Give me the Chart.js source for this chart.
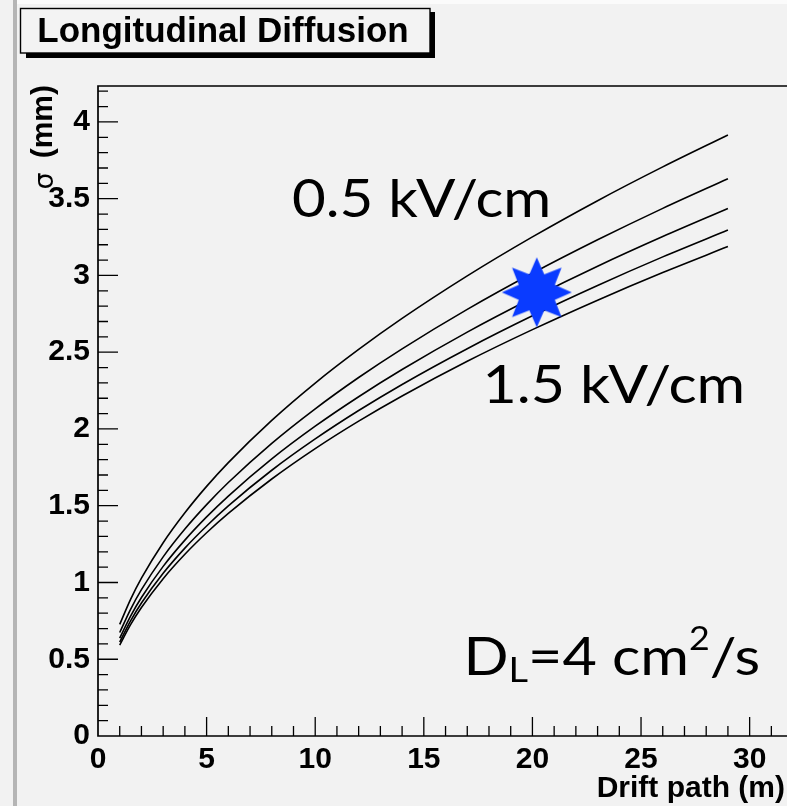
<!DOCTYPE html>
<html>
<head>
<meta charset="utf-8">
<script src="https://cdn.jsdelivr.net/npm/chart.js@4.4.1/dist/chart.umd.min.js"></script>
<style>
  html, body { margin: 0; padding: 0; background: #f2f2f2; overflow: hidden; }
  canvas { display: block; }
</style>
</head>
<body>
<canvas id="chart" width="787" height="806"></canvas>
<script>
// Drift path (m) sampled along each curve
const driftPath = [1, 1.5, 2, 3, 4, 5, 6, 8, 10, 12, 14, 17, 20, 23, 26, 29];

// Longitudinal spread sigma (mm), one curve per drift field
const sigmaField05  = [0.727, 0.890, 1.028, 1.259, 1.454, 1.626, 1.781, 2.056, 2.299, 2.518, 2.720, 2.997, 3.251, 3.487, 3.707, 3.915];
const sigmaField075 = [0.674, 0.825, 0.953, 1.167, 1.348, 1.507, 1.651, 1.906, 2.131, 2.335, 2.522, 2.779, 3.014, 3.232, 3.437, 3.630];
const sigmaField10  = [0.638, 0.781, 0.902, 1.105, 1.276, 1.427, 1.563, 1.805, 2.018, 2.210, 2.387, 2.631, 2.853, 3.060, 3.253, 3.436];
const sigmaField125 = [0.612, 0.750, 0.866, 1.060, 1.224, 1.368, 1.499, 1.731, 1.935, 2.120, 2.290, 2.523, 2.737, 2.935, 3.121, 3.296];
const sigmaField15  = [0.592, 0.725, 0.837, 1.025, 1.184, 1.324, 1.450, 1.674, 1.872, 2.051, 2.215, 2.441, 2.647, 2.839, 3.019, 3.188];

// Operating point marker (drift path m, sigma mm)
const operatingPoint = [20.2, 2.89];

// Axis tick labels
const xTickValues = [0, 5, 10, 15, 20, 25, 30];
const yTickValues = [0, 0.5, 1, 1.5, 2, 2.5, 3, 3.5, 4];

const curves = [sigmaField05, sigmaField075, sigmaField10, sigmaField125, sigmaField15];

const boldFont = '"Liberation Sans", Arial, Helvetica, sans-serif';
const textFont = 'Lato, "Open Sans", sans-serif';

// Filled eight-pointed star used as the marker image
function makeStar(outer, inner, color) {
  const size = Math.ceil(outer * 2 + 4);
  const c = document.createElement('canvas');
  c.width = size; c.height = size;
  const g = c.getContext('2d');
  const cx = size / 2, cy = size / 2;
  g.beginPath();
  for (let i = 0; i < 16; i++) {
    const r = i % 2 === 0 ? outer : inner;
    const a = -Math.PI / 2 + i * Math.PI / 8;
    const px = cx + r * Math.cos(a), py = cy + r * Math.sin(a);
    if (i === 0) g.moveTo(px, py); else g.lineTo(px, py);
  }
  g.closePath();
  g.fillStyle = color;
  g.fill();
  return c;
}
const starImage = makeStar(35, 19.5, '#0a3bff');

// Draws a run of text pieces [text, size, dy], stretched so its ink spans x0..x1
function drawRun(ctx, pieces, x0, x1, base) {
  let total = 0, inkLeft = 0, inkRight = 0;
  pieces.forEach((p, i) => {
    ctx.font = p[1] + 'px ' + textFont;
    const m = ctx.measureText(p[0]);
    if (i === 0) inkLeft = -m.actualBoundingBoxLeft;
    if (i === pieces.length - 1) inkRight = total + m.actualBoundingBoxRight;
    total += m.width;
  });
  const sx = (x1 - x0) / (inkRight - inkLeft);
  ctx.save();
  ctx.translate(x0, base);
  ctx.scale(sx, 1);
  ctx.translate(-inkLeft, 0);
  let x = 0;
  pieces.forEach(p => {
    ctx.font = p[1] + 'px ' + textFont;
    ctx.fillText(p[0], x, p[2]);
    x += ctx.measureText(p[0]).width;
  });
  ctx.restore();
}

// Page decoration: background, left border strip, title box
const pageDecor = {
  id: 'pageDecor',
  beforeDraw(chart) {
    const ctx = chart.ctx;
    ctx.save();
    ctx.fillStyle = '#f2f2f2';
    ctx.fillRect(0, 0, chart.width, chart.height);
    ctx.fillStyle = '#fbfbfb';
    ctx.fillRect(17, 0, chart.width, 4);
    ctx.fillStyle = '#b5b5b5';
    ctx.fillRect(13, 0, 4, chart.height);

    // title box with drop shadow
    ctx.fillStyle = '#000';
    ctx.fillRect(26, 12, 409, 46);
    ctx.fillStyle = '#f3f3f3';
    ctx.fillRect(20, 8, 410, 45);
    ctx.strokeStyle = '#000';
    ctx.lineWidth = 1.4;
    ctx.strokeRect(20.5, 8.5, 409.5, 44.5);
    ctx.fillStyle = '#000';
    ctx.font = 'bold 35px ' + boldFont;
    ctx.textAlign = 'center';
    ctx.textBaseline = 'alphabetic';
    ctx.fillText('Longitudinal Diffusion', 223, 42);
    ctx.restore();
  }
};

// Frame, inward tick marks, axis titles and text annotations
const frameAndText = {
  id: 'frameAndText',
  afterDatasetsDraw(chart) {
    const ctx = chart.ctx;
    const xs = chart.scales.x, ys = chart.scales.y;
    const a = chart.chartArea;
    ctx.save();
    ctx.strokeStyle = '#000';
    ctx.lineWidth = 1.7;
    ctx.beginPath();
    ctx.moveTo(chart.width, a.top); ctx.lineTo(a.left, a.top);
    ctx.lineTo(a.left, a.bottom); ctx.lineTo(chart.width, a.bottom);
    ctx.stroke();

    ctx.lineWidth = 1.3;
    ctx.beginPath();
    for (let i = 1; i <= 31; i++) {
      const px = xs.getPixelForValue(i);
      const len = i % 5 === 0 ? 19 : 10;
      ctx.moveTo(px, a.bottom); ctx.lineTo(px, a.bottom - len);
    }
    for (let i = 1; i <= 42; i++) {
      const py = ys.getPixelForValue(i / 10);
      const len = i % 5 === 0 ? 20 : 10;
      ctx.moveTo(a.left, py); ctx.lineTo(a.left + len, py);
    }
    ctx.stroke();

    // x axis title
    ctx.fillStyle = '#000';
    ctx.font = 'bold 30px ' + boldFont;
    ctx.textAlign = 'right';
    ctx.textBaseline = 'alphabetic';
    ctx.fillText('Drift path (m)', 785, 797);

    // y axis title, rotated
    ctx.save();
    ctx.translate(52, a.top - 1);
    ctx.rotate(-Math.PI / 2);
    ctx.textAlign = 'right';
    ctx.fillText('(mm)', 0, 0);
    const w = ctx.measureText('(mm)').width;
    ctx.font = '27px "DejaVu Sans", sans-serif';
    ctx.fillText('σ', -w - 14, 1);
    ctx.restore();

    // field annotations
    ctx.textAlign = 'left';
    const px = v => xs.getPixelForValue(v);
    const py = v => ys.getPixelForValue(v);
    drawRun(ctx, [['0.5 kV/cm', 52, 0]], px(8.98), px(20.72), py(3.381));
    drawRun(ctx, [['1.5 kV/cm', 52, 0]], px(17.91), px(29.65), py(2.167));

    // diffusion coefficient with subscript and superscript
    drawRun(ctx, [['D', 53, 0], ['L', 34, 7], ['=4 cm', 53, 0], ['2', 32, -25], ['/s', 53, 0]],
            px(17.03), px(30.38), py(0.395));
    ctx.restore();
  }
};

const lineSets = curves.map(values => ({
  type: 'line',
  data: driftPath.map((d, i) => ({ x: d, y: values[i] })),
  borderColor: '#000',
  borderWidth: 1.6,
  pointRadius: 0,
  fill: false,
  cubicInterpolationMode: 'monotone'
}));

new Chart(document.getElementById('chart'), {
  data: {
    datasets: [
      {
        type: 'scatter',
        data: [{ x: operatingPoint[0], y: operatingPoint[1] }],
        pointStyle: starImage,
        pointRadius: 35
      },
      ...lineSets
    ]
  },
  options: {
    responsive: false,
    animation: false,
    events: [],
    layout: { autoPadding: false, padding: { top: 86, left: 0, bottom: 0, right: 0 } },
    plugins: { legend: { display: false }, tooltip: { enabled: false }, title: { display: false } },
    scales: {
      x: {
        type: 'linear',
        min: 0,
        max: 31.72,
        grid: { display: false, drawTicks: false },
        border: { display: false },
        afterBuildTicks(scale) { scale.ticks = xTickValues.map(v => ({ value: v })); },
        afterFit(scale) { scale.height = 70; scale.paddingLeft = 0; scale.paddingRight = 0; },
        ticks: {
          autoSkip: false,
          maxRotation: 0,
          padding: 6,
          color: '#000',
          font: { family: boldFont, weight: 'bold', size: 30 },
          callback: v => String(v)
        }
      },
      y: {
        type: 'linear',
        min: 0,
        max: 4.234,
        grid: { display: false, drawTicks: false },
        border: { display: false },
        afterBuildTicks(scale) { scale.ticks = yTickValues.map(v => ({ value: v })); },
        afterFit(scale) { scale.width = 98; scale.paddingTop = 0; scale.paddingBottom = 0; },
        ticks: {
          autoSkip: false,
          padding: 8,
          color: '#000',
          font: { family: boldFont, weight: 'bold', size: 30 },
          callback: v => String(v)
        }
      }
    }
  },
  plugins: [pageDecor, frameAndText]
});
</script>
</body>
</html>
